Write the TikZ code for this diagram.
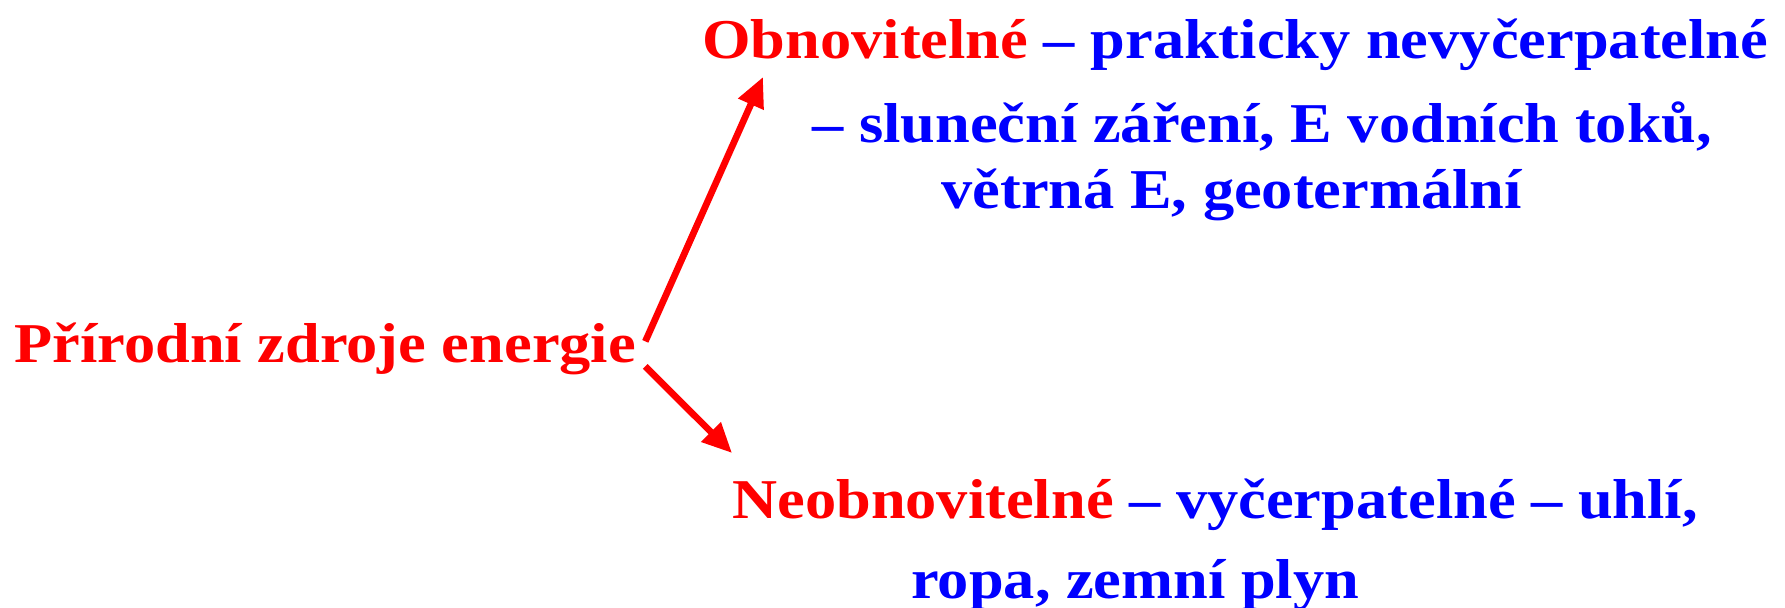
\documentclass[tikz,border=0pt]{standalone}
\usepackage{fontspec}
\setmainfont[FakeStretch=1.11]{Liberation Serif}
\usetikzlibrary{arrows.meta}

\begin{document}
\begin{tikzpicture}[x=0.02cm, y=-0.02cm,
    txt/.style={anchor=base west, inner sep=0pt, font=\fontsize{32}{38}\selectfont\bfseries},
    red/.style={txt, text=red},
    blue/.style={txt, text=blue},
    arr/.style={draw=red, line width=3.8pt, -{Triangle[length=17pt, width=15pt]}}]
        \useasboundingbox (0, 0) rectangle (1785, 608);
        \node[red] (P) at (14, 362) {Přírodní zdroje energie};
        \node[txt] (O) at (702, 59) {\textcolor{red}{Obnovitelné} \textcolor{blue}{– prakticky nevyčerpatelné}};
        \node[blue] (O2) at (812, 142) {– sluneční záření, E vodních toků,};
        \node[blue] (O3) at (941, 208) {větrná E, geotermální};
        \node[txt] (N) at (732, 518) {\textcolor{red}{Neobnovitelné} \textcolor{blue}{– vyčerpatelné – uhlí,}};
        \node[blue] (N2) at (911, 598) {ropa, zemní plyn};
        \coordinate (up) at (763, 77);
        \coordinate (down) at (732, 453);
        \draw[arr] ([shift={(9, -7)}]P.east) -- (up);
        \draw[arr] ([shift={(9, 18)}]P.east) -- (down);
      \end{tikzpicture}
\end{document}
